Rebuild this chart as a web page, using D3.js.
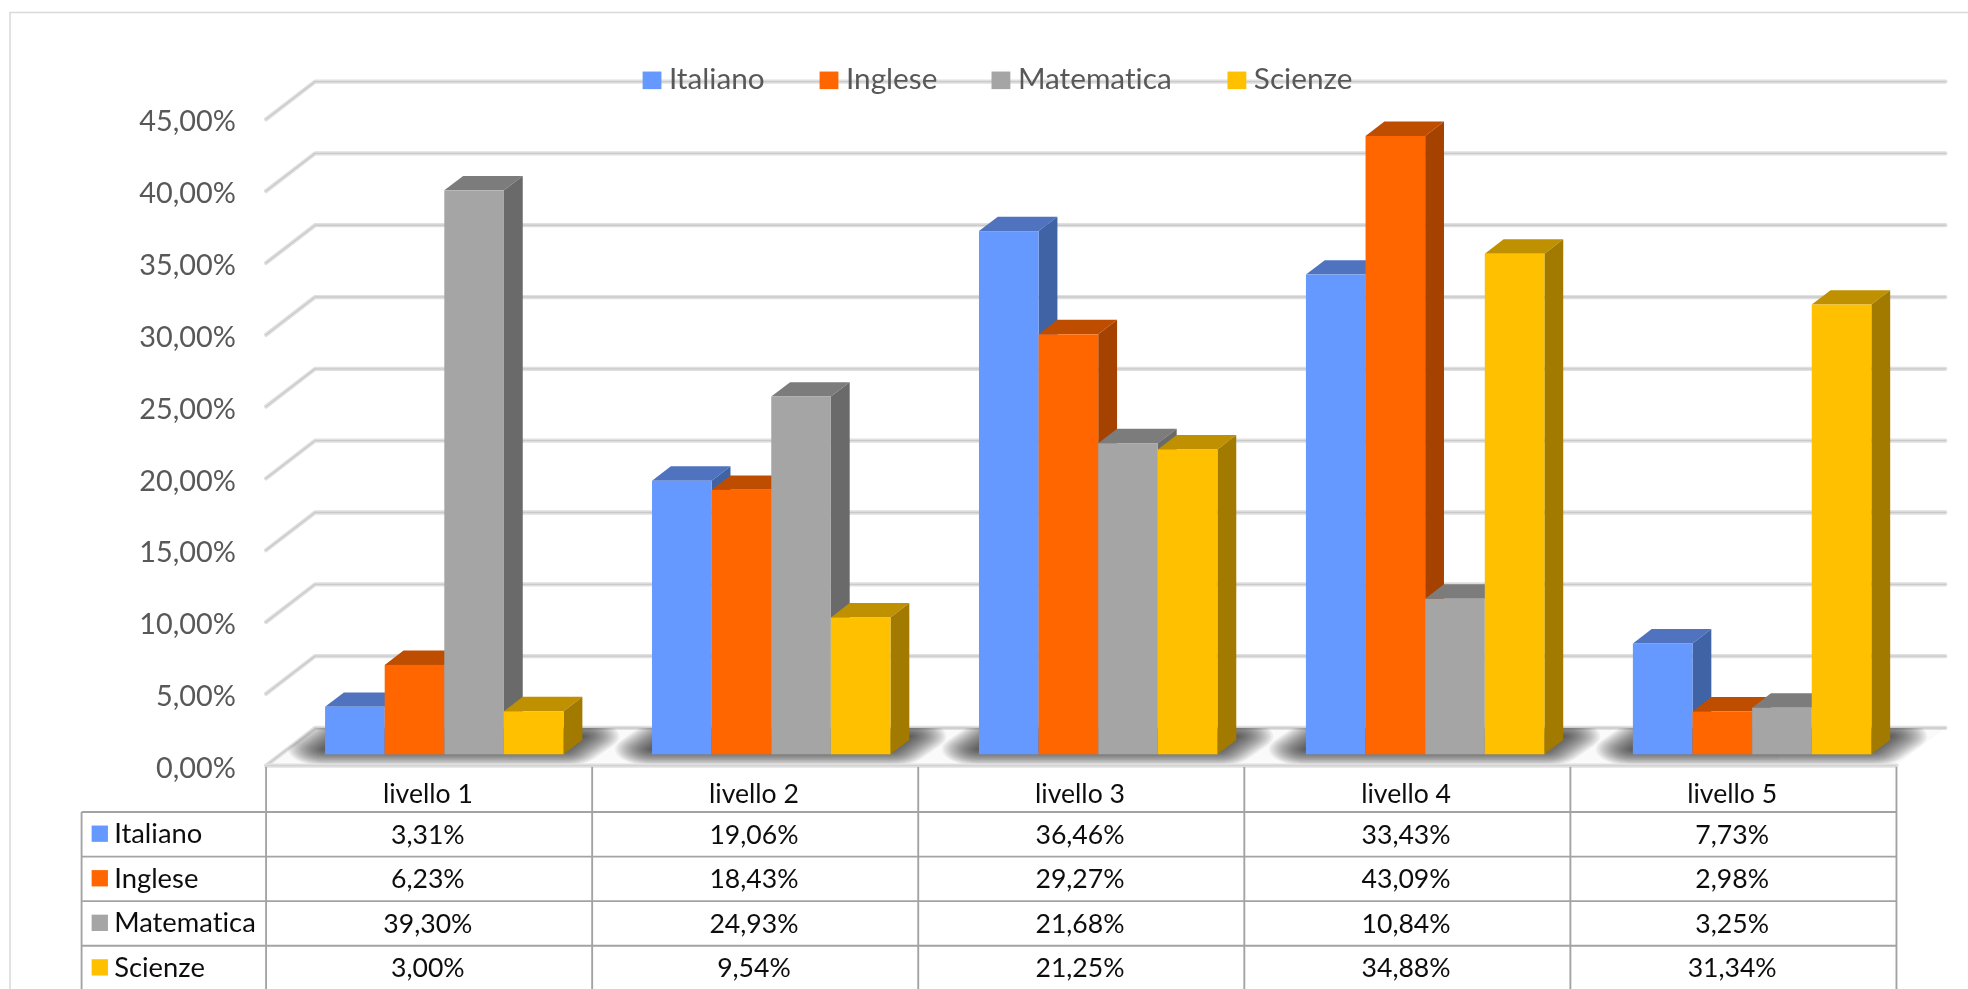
<!DOCTYPE html>
<html><head><meta charset="utf-8">
<script src="https://cdnjs.cloudflare.com/ajax/libs/d3/7.8.5/d3.min.js"></script>
<style>html,body{margin:0;padding:0;background:#fff;overflow:hidden}svg{display:block}text{font-family:Lato,"Liberation Sans",sans-serif;font-variant-ligatures:none}</style>
</head><body><script>
const categories = ["livello 1","livello 2","livello 3","livello 4","livello 5"];
const seriesNames = ["Italiano","Inglese","Matematica","Scienze"];
const italiano = [3.31,19.06,36.46,33.43,7.73];
const inglese = [6.23,18.43,29.27,43.09,2.98];
const matematica = [39.30,24.93,21.68,10.84,3.25];
const scienze = [3.00,9.54,21.25,34.88,31.34];
const seriesValues = [italiano,inglese,matematica,scienze];
const frontColors = ["#6699FF","#FF6600","#A5A5A5","#FFC000"];
const topColors = ["#4F73BF","#BF4D00","#7C7C7C","#BF9000"];
const sideColors = ["#4063A6","#A64200","#6B6B6B","#A37A00"];
const axisTicks = [0,5,10,15,20,25,30,35,40,45];
const fmt = v => v.toFixed(2).replace(".", ",") + "%";

const W=1968,H=989,k=W/1568;
const svg=d3.select("body").append("svg").attr("width",W).attr("height",H);
const defs=svg.append("defs");
defs.append("filter").attr("id","soft").attr("filterUnits","userSpaceOnUse").attr("x",0).attr("y",0).attr("width",1568).attr("height",800)
  .append("feGaussianBlur").attr("stdDeviation",0.4);
const root=svg.append("g").attr("transform",`scale(${k})`).attr("filter","url(#soft)");

// frame
root.append("path").attr("d","M8,800V10H1570").attr("fill","none").attr("stroke","#d9d9d9").attr("stroke-width",1.2);

// geometry
const wallDx=39, wallDy=-30, floorY=610, frontLeft=212, frontRight=1511;
const y=d3.scaleLinear().domain([0,45]).range([floorY,floorY-515]);
const colX=d3.scaleBand().domain(categories).range([frontLeft,frontRight]).padding(0);
const groupX=d3.scaleBand().domain(categories).range([259,259+260.5*5]);
const barStep=47.5, barBase=601, barDx=15, barDy=-11.5;
const barH=d3.scaleLinear().domain([0,45]).range([0,514.5]);
const barX=d3.scaleBand().domain(seriesNames).range([0,barStep*4]);

// floor
root.append("path")
 .attr("d",`M${frontLeft},${floorY}L${frontLeft+wallDx},${floorY+wallDy}H${frontRight+wallDx}L${frontRight},${floorY}Z`)
 .attr("fill","#fafafa");
defs.append("clipPath").attr("id","floorClip").append("path")
 .attr("d",`M${frontLeft},${floorY}L${frontLeft+wallDx},${floorY+wallDy}H${frontRight+wallDx+3}L${frontRight+3},${floorY}Z`);

// gridlines
function grid(sel,col,w){
  sel.selectAll(null).data(axisTicks).join("path")
   .attr("d",d=>{const p=y(d);return `M${frontLeft},${p}L${frontLeft+wallDx},${p+wallDy}H${frontRight+wallDx}`;})
   .attr("fill","none").attr("stroke",col).attr("stroke-width",w).attr("stroke-linejoin","round").attr("stroke-linecap","round");
}
const gG=root.append("g");
grid(gG,"#e0e0e0",3.4); grid(gG,"#cacaca",1.1);

// floor shadows: stacked translucent outlines give a soft falloff
const shG=root.append("g").attr("clip-path","url(#floorClip)");
categories.forEach(c=>{
  const x0=groupX(c);
  const g=shG.append("g").attr("transform",`translate(${x0},${barBase-4}) scale(1,0.45)`);
  d3.range(2,62,3).forEach(sw=>{
    g.append("path").attr("fill","#1a1a1a").attr("stroke","#1a1a1a").attr("stroke-width",sw)
     .attr("stroke-linejoin","round").attr("opacity",0.05)
     .attr("d",`M0,0L${barDx},${2*barDy}H${barStep*4+barDx}L${barStep*4},0Z`);
  });
});
// floor front edge
root.append("path").attr("d",`M${frontLeft},${floorY}H${frontRight}`).attr("stroke","#e0e0e0").attr("stroke-width",3.4).attr("stroke-linecap","round");
root.append("path").attr("d",`M${frontLeft},${floorY}H${frontRight}`).attr("stroke","#d2d2d2").attr("stroke-width",1);

// y axis labels
const axisG=root.append("g").attr("transform",`translate(${188},0)`)
 .call(d3.axisLeft(y).tickValues(axisTicks).tickSize(0).tickPadding(0).tickFormat(fmt));
axisG.select(".domain").remove();
axisG.selectAll("text").attr("fill","#595959").style("font-size","23px").style("font-family","Lato,sans-serif")
 .attr("dy","0.4em");

// bars
const barsG=root.append("g");
categories.forEach((c,ci)=>{
  const g=barsG.append("g").attr("transform",`translate(${groupX(c)},${barBase})`);
  seriesNames.forEach((s,si)=>{
    const v=seriesValues[si][ci], x0=barX(s), w=barX.bandwidth(), h=barH(v);
    g.append("path").attr("fill",topColors[si])
     .attr("d",`M${x0},${-h}l${barDx},${barDy}h${w}l${-barDx},${-barDy}Z`);
    g.append("path").attr("fill",sideColors[si])
     .attr("d",`M${x0+w},${-h}l${barDx},${barDy}V${barDy}l${-barDx},${-barDy}Z`);
    g.append("rect").attr("fill",frontColors[si]).attr("x",x0).attr("y",-h).attr("width",w).attr("height",h);
  });
});

// legend
const legendSw=[512,653,790,978], legendTx=[533,674,811,999];
const lg=root.append("g");
seriesNames.forEach((s,i)=>{
  lg.append("rect").attr("x",legendSw[i]).attr("y",57).attr("width",15).attr("height",14).attr("fill",frontColors[i]);
  lg.append("text").attr("x",legendTx[i]).attr("y",71).attr("fill","#595959").style("font-size","23.7px").text(s);
});

// data table
const tableLeft=65, rowY=d3.scaleLinear().domain([0,4]).range([647,789]);
const tbl=root.append("g").attr("stroke","#a3a3a3").attr("stroke-width",1.5);
categories.concat(["end"]).forEach((c,i)=>{
  const x=frontLeft+colX.bandwidth()*i;
  tbl.append("line").attr("x1",x).attr("x2",x).attr("y1",611).attr("y2",800);
});
tbl.append("line").attr("x1",tableLeft).attr("x2",tableLeft).attr("y1",647).attr("y2",800);
d3.range(4).forEach(i=>{
  tbl.append("line").attr("x1",tableLeft).attr("x2",frontRight).attr("y1",rowY(i)).attr("y2",rowY(i));
});
const tx=root.append("g").attr("fill","#111").style("font-size","21.2px");
categories.forEach(c=>{
  tx.append("text").attr("x",colX(c)+colX.bandwidth()/2-1).attr("y",rowY(0)-7).attr("text-anchor","middle").text(c);
});
seriesNames.forEach((s,si)=>{
  const ym=rowY(si)+(rowY(1)-rowY(0))/2;
  tx.append("rect").attr("x",73).attr("y",ym-7).attr("width",13).attr("height",13).attr("fill",frontColors[si]);
  tx.append("text").attr("x",91).attr("y",ym+7).style("font-size","21.8px").text(s);
  categories.forEach((c,ci)=>{
    tx.append("text").attr("x",colX(c)+colX.bandwidth()/2-1).attr("y",ym+7.5).attr("text-anchor","middle").text(fmt(seriesValues[si][ci]));
  });
});
</script></body></html>
